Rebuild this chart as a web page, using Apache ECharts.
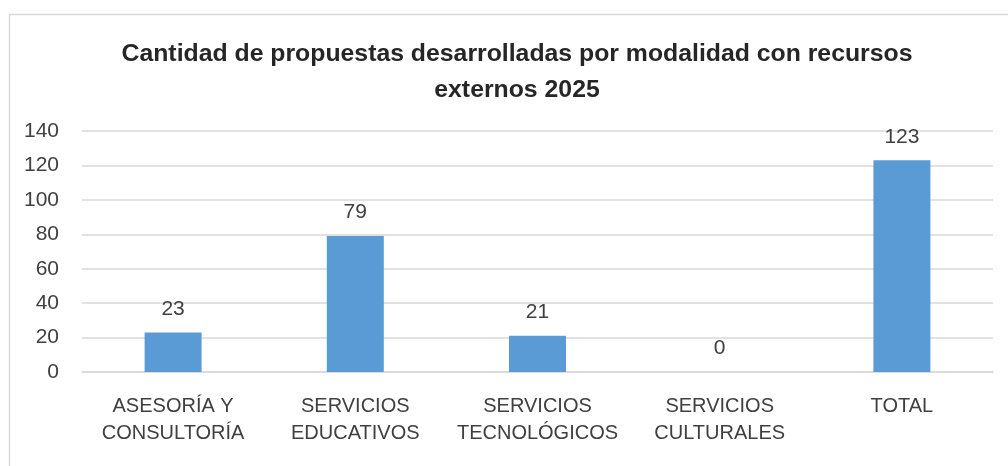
<!DOCTYPE html>
<html>
<head>
<meta charset="utf-8">
<script src="https://cdn.jsdelivr.net/npm/echarts@6/dist/echarts.min.js"></script>
<style>
  html, body { margin: 0; padding: 0; background: #ffffff; }
  #chart { width: 1008px; height: 466px; }
</style>
</head>
<body>
<div id="chart"></div>
<script>
// Propuestas desarrolladas por modalidad (recursos externos, 2025)
const categories = [
  'ASESORÍA Y\nCONSULTORÍA',
  'SERVICIOS\nEDUCATIVOS',
  'SERVICIOS\nTECNOLÓGICOS',
  'SERVICIOS\nCULTURALES',
  'TOTAL'
];
const values = [23, 79, 21, 0, 123];
const titleText = 'Cantidad de propuestas desarrolladas por modalidad con recursos\nexternos 2025';

const FONT = '"Liberation Sans", Arial, sans-serif';

const chart = echarts.init(document.getElementById('chart'), null, { renderer: 'canvas' });
chart.setOption({
  backgroundColor: '#ffffff',
  animation: false,
  textStyle: { fontFamily: FONT },
  graphic: [{
    type: 'rect',
    silent: true,
    shape: { x: 9.5, y: 14.5, width: 1100, height: 500 },
    style: { fill: 'none', stroke: '#D9D9D9', lineWidth: 1.5 }
  }],
  title: {
    text: titleText,
    left: 512,
    textAlign: 'center',
    top: 31,
    textStyle: {
      fontFamily: FONT,
      fontSize: 24.8,
      fontWeight: 'bold',
      color: '#262626',
      lineHeight: 36,
      align: 'center'
    }
  },
  grid: { left: 82, right: 15, top: 131, height: 241, containLabel: false },
  xAxis: {
    type: 'category',
    data: categories,
    axisLine: { lineStyle: { color: '#D9D9D9', width: 1.5 } },
    axisTick: { show: false },
    axisLabel: {
      color: '#404040',
      fontSize: 20,
      lineHeight: 27,
      margin: 21,
      interval: 0
    }
  },
  yAxis: {
    type: 'value',
    min: 0,
    max: 140,
    interval: 20,
    axisLine: { show: false },
    axisTick: { show: false },
    splitLine: { lineStyle: { color: '#D9D9D9', width: 1.5 } },
    axisLabel: { color: '#404040', fontSize: 21, margin: 23 }
  },
  series: [{
    type: 'bar',
    data: values,
    barWidth: 57,
    itemStyle: { color: '#5B9BD5' },
    label: {
      show: true,
      position: 'top',
      distance: 13,
      color: '#404040',
      fontSize: 21
    }
  }]
});
</script>
</body>
</html>
